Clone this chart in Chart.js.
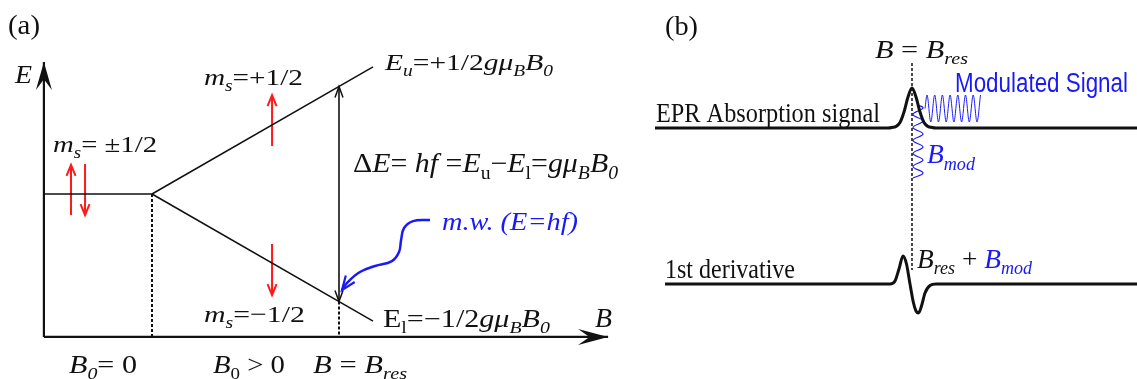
<!DOCTYPE html>
<html><head><meta charset="utf-8">
<script src="https://cdn.jsdelivr.net/npm/chart.js@4"></script>
<style>html,body{margin:0;padding:0;background:#fff;} #wrap{width:1137px;height:379px;}</style>
</head><body><div id="wrap"><canvas id="c" width="1137" height="379"></canvas></div>
<script>
// ---------- Panel (a): Zeeman splitting. x = B / B_res, y = E / (g·μB·B_res) ----------
const axisE      = [[-0.578, -0.665], [-0.578, 0.614]];
const axisB      = [[-0.578, -0.665], [2.439, -0.665]];
const levelZero  = [[-0.578, 0], [0, 0]];
const levelUpper = [[0, 0], [1.182, 0.591]];
const levelLower = [[0, 0], [1.182, -0.591]];
const guideB0    = [[0, 0], [0, -0.665]];
const guideBres  = [[1, -0.5], [1, -0.665]];
const deltaE     = [[1, -0.5], [1, 0.5]];
const spinUpZero   = [[-0.433, -0.098], [-0.433, 0.135]];
const spinDownZero = [[-0.358, 0.140], [-0.358, -0.098]];
const spinUpField   = [[0.642, 0.223], [0.642, 0.460]];
const spinDownField = [[0.642, -0.233], [0.642, -0.470]];
const microwave = [[1.487, -0.121], [1.396, -0.126], [1.348, -0.158], [1.332, -0.214], [1.321, -0.270],
                   [1.283, -0.312], [1.193, -0.335], [1.112, -0.363], [1.048, -0.409], [1.016, -0.447]];

// ---------- Panel (b): EPR signals. u = field offset from B_res, v = signal level ----------
const resonanceLine = [[0, 31.6], [0, 10.9]];
const absBase = 25.1;
const absField  = [-25.7, -2.4, -2.0, -1.6, -1.2, -0.8, -0.4, 0, 0.4, 0.8, 1.2, 1.6, 2.0, 2.4, 22.5];
const absSignal = [0, 0, 0.05, 0.15, 0.55, 1.6, 3.1, 4.0, 3.1, 1.6, 0.55, 0.15, 0.05, 0, 0];
const derBase = 9.5;
const derField  = [-24.7, -2.2, -1.7, -1.3, -0.9, -0.55, -0.2, 0.15, 0.4, 0.65, 0.95, 1.3, 1.8, 2.4, 22.5];
const derSignal = [0, 0, 0.3, 1.5, 2.8, 2.0, 0, -1.9, -2.7, -2.9, -2.2, -0.9, -0.15, 0, 0];
const modField  = [1.3, 1.5, 1.88, 2.27, 2.65, 3.04, 3.42, 3.81, 4.19, 4.58, 4.96, 5.35, 5.73, 6.12, 6.5, 6.85];
const modSignal = [27.05, 28.4, 25.7, 28.4, 25.7, 28.4, 25.7, 28.4, 25.7, 28.4, 25.7, 28.4, 25.7, 28.4, 25.7, 28.4];
const bmodField = [0.6, 1.1, 0.1, 1.1, 0.1, 1.1, 0.1, 1.1, 0.1, 1.1, 0.1, 1.1, 0.1];
const bmodLevel = [27.4, 27.1, 26.45, 25.8, 25.15, 24.5, 23.85, 23.2, 22.55, 21.9, 21.25, 20.6, 20.1];

// ---------- Text ----------
const SERIF = "'Liberation Serif', 'DejaVu Serif', serif";
const SANS_N = "'Liberation Sans Narrow', 'Liberation Sans', sans-serif";
const BLUE = '#1a1af5', RED = '#ff1a1a', INK = '#111';

const labelsA = [
  {runs: [['(a)', '']], at: [-0.770, 0.744], size: 27, w: 32},
  {runs: [['E', 'i']], at: [-0.733, 0.516], size: 25, w: 17},
  {runs: [['m', 'i'], ['s', 'is'], ['= ±1/2', '']], at: [-0.529, 0.195], size: 24, w: 104},
  {runs: [['m', 'i'], ['s', 'is'], ['=+1/2', '']], at: [0.278, 0.507], size: 24, w: 99},
  {runs: [['E', 'i'], ['u', 'is'], ['=+1/2', ''], ['gμ', 'i'], ['B', 'is'], ['B', 'i'], ['0', 'is']], at: [1.246, 0.577], size: 24, w: 168},
  {runs: [['Δ', ''], ['E', 'i'], ['= ', ''], ['hf', 'i'], [' =', ''], ['E', 'i'], ['u', 's'], ['−', ''], ['E', 'i'], ['l', 's'], ['=', ''], ['gμ', 'i'], ['B', 'is'], ['B', 'i'], ['0', 'is']], at: [1.075, 0.102], size: 27, w: 265},
  {runs: [['m.w. (E=hf)', 'i']], color: BLUE, at: [1.551, -0.167], size: 25, w: 136},
  {runs: [['m', 'i'], ['s', 'is'], ['=−1/2', '']], at: [0.278, -0.595], size: 24, w: 101},
  {runs: [['E', ''], ['l', 's'], ['=−1/2', ''], ['gμ', 'i'], ['B', 'is'], ['B', 'i'], ['0', 'is']], at: [1.235, -0.619], size: 25, w: 167},
  {runs: [['B', 'i']], at: [2.369, -0.619], size: 27, w: 17},
  {runs: [['B', 'i'], ['0', 'is'], ['= 0', '']], at: [-0.444, -0.833], size: 25, w: 68},
  {runs: [['B', 'i'], ['0', 's'], [' > 0', '']], at: [0.326, -0.833], size: 25, w: 72},
  {runs: [['B', 'i'], [' = ', ''], ['B', 'i'], ['res', 'is']], at: [0.861, -0.833], size: 25, w: 94}
];
const labelsB = [
  {runs: [['(b)', '']], at: [-24.7, 34.4], size: 27, w: 33},
  {runs: [['B', 'i'], [' = ', ''], ['B', 'i'], ['res', 'is']], at: [-3.7, 32.1], size: 25, w: 93},
  {runs: [['EPR Absorption signal', '']], at: [-25.6, 25.7], size: 27, w: 224},
  {runs: [['Modulated Signal', '']], font: SANS_N, color: BLUE, at: [4.3, 28.7], size: 27, w: 173},
  {runs: [['B', 'i'], ['mod', 'is']], color: BLUE, at: [1.5, 21.6], size: 28, w: 48},
  {runs: [['1st derivative', '']], at: [-24.7, 10.1], size: 28, w: 130},
  {runs: [['B', 'i'], ['res', 'is'], [' + ', ''], ['B', 'ib'], ['mod', 'isb']], at: [0.5, 11.1], size: 27, w: 115}
];

// ---------- Build datasets ----------
const P = pairs => pairs.map(([x, y]) => ({x, y}));
const Z = (xs, ys, base = 0) => xs.map((x, i) => ({x, y: ys[i] + base}));
function line(data, panel, style) {
  return Object.assign({
    data, showLine: true, pointRadius: 0, pointHoverRadius: 0, fill: false,
    borderColor: INK, borderWidth: 1.5, tension: 0, borderCapStyle: 'butt',
    xAxisID: panel === 'a' ? 'x' : 'x2', yAxisID: panel === 'a' ? 'y' : 'y2'
  }, style);
}
const headAxis = {end: true, style: 'stealth', L: 28, W: 8};
const headRed = {end: true, style: 'v', L: 11, W: 4.5, lw: 2};
const datasets = [
  line(P(axisE), 'a', {borderWidth: 2.2, arrow: headAxis}),
  line(P(axisB), 'a', {borderWidth: 2.2, arrow: {end: true, style: 'stealth', L: 30, W: 8}}),
  line(P(levelZero), 'a', {}),
  line(P(levelUpper), 'a', {}),
  line(P(levelLower), 'a', {}),
  line(P(guideB0), 'a', {borderWidth: 2, borderDash: [3, 2]}),
  line(P(guideBres), 'a', {borderWidth: 2, borderDash: [3, 2]}),
  line(P(deltaE), 'a', {borderWidth: 1.6, arrow: {end: true, start: true, style: 'v', L: 11, W: 4, lw: 1.5}}),
  line(P(spinUpZero), 'a', {borderColor: RED, borderWidth: 2, arrow: headRed}),
  line(P(spinDownZero), 'a', {borderColor: RED, borderWidth: 2, arrow: headRed}),
  line(P(spinUpField), 'a', {borderColor: RED, borderWidth: 2, arrow: headRed}),
  line(P(spinDownField), 'a', {borderColor: RED, borderWidth: 2, arrow: headRed}),
  line(P(microwave), 'a', {borderColor: BLUE, borderWidth: 2.5, tension: 0.4, arrow: {end: true, style: 'v', L: 14, W: 5.5, lw: 2.2}}),
  line(P(resonanceLine), 'b', {borderWidth: 1.5, borderDash: [3, 2]}),
  line(Z(absField, absSignal, absBase), 'b', {borderWidth: 3, cubicInterpolationMode: 'monotone'}),
  line(Z(derField, derSignal, derBase), 'b', {borderWidth: 3, cubicInterpolationMode: 'monotone'}),
  line(Z(modField, modSignal), 'b', {borderColor: BLUE, borderWidth: 1, cubicInterpolationMode: 'monotone'}),
  line(Z(bmodField, bmodLevel), 'b', {borderColor: BLUE, borderWidth: 1.2, tension: 0.4})
];

function drawHead(ctx, tip, from, a, color) {
  const ang = Math.atan2(tip.y - from.y, tip.x - from.x);
  ctx.save();
  ctx.translate(tip.x, tip.y); ctx.rotate(ang);
  ctx.strokeStyle = color; ctx.fillStyle = color; ctx.lineWidth = a.lw || 1.5;
  ctx.setLineDash([]);
  ctx.beginPath();
  if (a.style === 'stealth') {
    ctx.moveTo(0, 0); ctx.lineTo(-a.L, -a.W); ctx.lineTo(-a.L * 0.62, 0); ctx.lineTo(-a.L, a.W); ctx.closePath(); ctx.fill();
  } else {
    ctx.moveTo(-a.L, -a.W); ctx.lineTo(0, 0); ctx.lineTo(-a.L, a.W); ctx.stroke();
  }
  ctx.restore();
}
function drawRich(ctx, lab, px, py) {
  const fam = lab.font || SERIF;
  const parts = lab.runs.map(([t, f]) => {
    const sub = f.includes('s');
    const size = lab.size * (sub ? 0.66 : 1);
    const font = (f.includes('i') ? 'italic ' : '') + size + 'px ' + fam;
    ctx.font = font;
    return {t, font, w: ctx.measureText(t).width, dy: sub ? lab.size * 0.24 : 0,
            color: f.includes('b') ? BLUE : (lab.color || INK)};
  });
  const total = parts.reduce((s, p) => s + p.w, 0);
  const sx = lab.w ? lab.w / total : 1;
  ctx.save();
  ctx.translate(px, py); ctx.scale(sx, 1);
  ctx.textAlign = 'left'; ctx.textBaseline = 'alphabetic';
  let x = 0;
  for (const p of parts) { ctx.font = p.font; ctx.fillStyle = p.color; ctx.fillText(p.t, x, p.dy); x += p.w; }
  ctx.restore();
}
const annotate = {
  id: 'annotate',
  afterDatasetsDraw(chart) {
    const ctx = chart.ctx;
    chart.data.datasets.forEach(ds => {
      if (!ds.arrow) return;
      const xs = chart.scales[ds.xAxisID], ys = chart.scales[ds.yAxisID];
      const px = p => ({x: xs.getPixelForValue(p.x), y: ys.getPixelForValue(p.y)});
      const d = ds.data, n = d.length;
      if (ds.arrow.end) drawHead(ctx, px(d[n - 1]), px(d[n - 2]), ds.arrow, ds.borderColor);
      if (ds.arrow.start) drawHead(ctx, px(d[0]), px(d[1]), ds.arrow, ds.borderColor);
    });
    const draw = (labs, sx, sy) => labs.forEach(l =>
      drawRich(ctx, l, chart.scales[sx].getPixelForValue(l.at[0]), chart.scales[sy].getPixelForValue(l.at[1])));
    draw(labelsA, 'x', 'y');
    draw(labelsB, 'x2', 'y2');
  }
};

const hidden = (min, max) => ({type: 'linear', display: false, min, max, bounds: 'data', grid: {display: false}});
new Chart(document.getElementById('c'), {
  type: 'scatter',
  data: {datasets},
  options: {
    responsive: false, maintainAspectRatio: false, animation: false, events: [],
    layout: {padding: 0},
    plugins: {legend: {display: false}, tooltip: {enabled: false}, title: {display: false}},
    scales: {
      x: hidden(-0.8128, 5.2674),
      y: hidden(-0.8605, 0.9023),
      x2: hidden(-91.2, 22.5),
      y2: hidden(0, 37.9)
    }
  },
  plugins: [annotate]
});
</script></body></html>
